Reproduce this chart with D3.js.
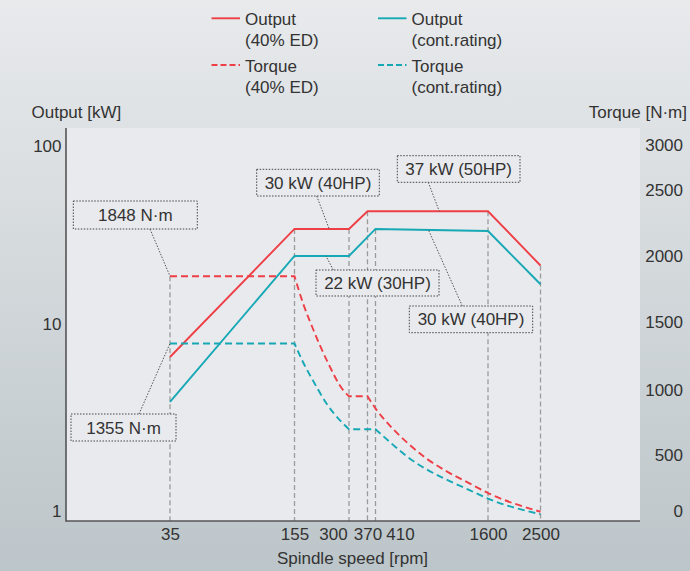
<!DOCTYPE html>
<html><head><meta charset="utf-8">
<script src="https://cdn.jsdelivr.net/npm/d3@7"></script>
<style>
html,body{margin:0;padding:0;overflow:hidden;}
svg{display:block;font-family:"Liberation Sans",Arial,Helvetica,sans-serif;}
</style></head>
<body>
<svg id="chart" width="690" height="571"></svg>
<script>
// ---------- data ----------
const rpmTicks = [35, 155, 300, 370, 410, 1600, 2500];
const outputTicks = [1, 10, 100];
const torqueTicks = [0, 500, 1000, 1500, 2000, 2500, 3000];

const outEdRpm   = [35, 155, 300, 370, 1600, 2500];
const outEdKw    = [6.7, 34.3, 34.3, 43.1, 43.1, 21.4];
const outContRpm = [35, 155, 300, 410, 1600, 2500];
const outContKw  = [3.85, 24.2, 24.2, 34.3, 33.4, 16.8];

const torqEdRpm   = [35, 155, 172, 195, 229, 280, 300, 370, 416, 509, 622, 762, 932, 1287, 1600, 2500];
const torqEdNm    = [1848, 1848, 1640, 1439, 1217, 995, 950, 950, 845, 699, 579, 471, 375, 247, 163, -5];
const torqContRpm = [35, 155, 172, 195, 229, 280, 300, 410, 509, 622, 762, 932, 1287, 1600, 2500];
const torqContNm  = [1340, 1340, 1202, 1061, 893, 741, 700, 700, 579, 471, 375, 297, 187, 113, -27];

const legendLabels = [["Output", "(40% ED)"], ["Output", "(cont.rating)"], ["Torque", "(40% ED)"], ["Torque", "(cont.rating)"]];
const annoTexts  = ["1848 N·m", "30 kW (40HP)", "37 kW (50HP)", "22 kW (30HP)", "30 kW (40HP)", "1355 N·m"];
const annoRpm    = [35, 236, 887, 227, 777, 35];
const annoValue  = [1848, 34.3, 43.1, 24.2, 34, 1340];
const annoAxis   = ["torque", "output", "output", "output", "output", "torque"];

// ---------- layout / style ----------
const RED = "#ee3f47", TEAL = "#17a8b6", TXT = "#333";
const plot = {x0: 66, x1: 640, y0: 128, y1: 521};

const svg = d3.select("#chart");
const defs = svg.append("defs");
const grad = defs.append("linearGradient").attr("id", "bg").attr("x1", 0).attr("y1", 0).attr("x2", 0).attr("y2", 1);
grad.append("stop").attr("offset", "0").attr("stop-color", "#e8eaec");
grad.append("stop").attr("offset", "1").attr("stop-color", "#bcc5c9");
svg.append("rect").attr("width", 690).attr("height", 571).attr("fill", "url(#bg)");
svg.append("rect").attr("x", plot.x0).attr("y", plot.y0).attr("width", plot.x1 - plot.x0).attr("height", plot.y1 - plot.y0).attr("fill", "#e9eaed");

// ---------- scales ----------
const x = d3.scaleLog().domain(rpmTicks).range([170, 294.5, 349, 367.5, 375.5, 488, 540.5]);
const yOut = d3.scaleLog().domain(outputTicks).range([511.2, 324.5, 146]);
const yTq = d3.scaleLinear().domain(torqueTicks).range([511.2, 455.5, 389.7, 321.7, 256.3, 190, 145.5]);

const series = [
  {rpm: outEdRpm, val: outEdKw, y: yOut, color: RED, dash: null},
  {rpm: outContRpm, val: outContKw, y: yOut, color: TEAL, dash: null},
  {rpm: torqEdRpm, val: torqEdNm, y: yTq, color: RED, dash: "7,4"},
  {rpm: torqContRpm, val: torqContNm, y: yTq, color: TEAL, dash: "7,4"}
];

// ---------- vertical guide lines ----------
rpmTicks.forEach(r => {
  let top = plot.y1;
  series.forEach(s => s.rpm.forEach((v, i) => { if (v === r) top = Math.min(top, s.y(s.val[i])); }));
  svg.append("line").attr("x1", x(r)).attr("x2", x(r)).attr("y1", top).attr("y2", plot.y1)
    .attr("stroke", "#9a9a9a").attr("stroke-width", 1.3).attr("stroke-dasharray", "5,3");
});

// ---------- series ----------
function buildPath(s) {
  const pts = s.rpm.map((r, i) => [x(r), s.y(s.val[i])]);
  if (!s.dash) return d3.line()(pts);
  // split into flat parts (straight) and falling runs (smooth)
  let d = "", i = 0;
  while (i < pts.length - 1) {
    if (s.val[i] === s.val[i + 1]) {
      const seg = d3.line()([pts[i], pts[i + 1]]);
      d += d ? seg.replace(/^M/, "L") : seg;
      i += 1;
    } else {
      let j = i + 1;
      while (j < pts.length - 1 && s.val[j] !== s.val[j + 1]) j++;
      const seg = d3.line().curve(d3.curveMonotoneX)(pts.slice(i, j + 1));
      d += d ? seg.replace(/^M/, "L") : seg;
      i = j;
    }
  }
  return d;
}
series.forEach(s => {
  svg.append("path").attr("d", buildPath(s)).attr("fill", "none").attr("stroke", s.color)
    .attr("stroke-width", 1.9).attr("stroke-dasharray", s.dash);
});

// ---------- axes ----------
svg.append("line").attr("x1", plot.x0).attr("x2", plot.x0).attr("y1", plot.y0).attr("y2", plot.y1 + 0.8)
  .attr("stroke", "#555").attr("stroke-width", 1.6);
svg.append("line").attr("x1", plot.x0).attr("x2", plot.x1).attr("y1", plot.y1).attr("y2", plot.y1)
  .attr("stroke", "#555").attr("stroke-width", 1.6);

const gL = svg.append("g").attr("transform", `translate(${plot.x0},0)`)
  .call(d3.axisLeft(yOut).tickValues(outputTicks).tickFormat(d3.format("d")).tickSize(0).tickPadding(4.5));
const gR = svg.append("g").attr("transform", `translate(683,0)`)
  .call(d3.axisRight(yTq).tickValues(torqueTicks).tickFormat(d3.format("d")).tickSize(0).tickPadding(0));
gR.selectAll("text").attr("text-anchor", "end").attr("x", 0);
const gB = svg.append("g").attr("transform", `translate(0,${plot.y1})`)
  .call(d3.axisBottom(x).tickValues(rpmTicks).tickFormat(d3.format("d")).tickSize(0).tickPadding(7));
const labelShift = {300: -16, 410: 24.5};
gB.selectAll(".tick text").attr("dx", d => labelShift[d] || 0);
[gL, gR, gB].forEach(g => {
  g.select(".domain").remove();
  g.selectAll("text").attr("font-size", 17).attr("fill", TXT).attr("font-family", "Liberation Sans, Arial, sans-serif");
});

// axis titles
const title = (t, xx, yy, anchor) => svg.append("text").attr("x", xx).attr("y", yy).attr("text-anchor", anchor)
  .attr("font-size", 17).attr("fill", TXT).text(t);
title("Output [kW]", 31.5, 118, "start");
title("Torque [N·m]", 687, 118, "end");
title("Spindle speed [rpm]", 352.5, 563.5, "middle");

// ---------- legend ----------
const legPos = [[211.5, 18.3], [378, 18.3], [211.5, 65], [378, 65]];
series.forEach((s, i) => {
  const [lx, ly] = legPos[i];
  svg.append("line").attr("x1", lx).attr("x2", lx + 28.5).attr("y1", ly).attr("y2", ly)
    .attr("stroke", s.color).attr("stroke-width", 1.9).attr("stroke-dasharray", s.dash ? "6,3" : null);
  const t = svg.append("text").attr("font-size", 17).attr("fill", TXT);
  t.append("tspan").attr("x", lx + 33.5).attr("y", ly + 7).text(legendLabels[i][0]);
  t.append("tspan").attr("x", lx + 33.5).attr("y", ly + 27.5).text(legendLabels[i][1]);
});

// ---------- annotations ----------
const boxes = [
  {x: 73.3, y: 201, w: 124, h: 28, lx: 150},
  {x: 256.7, y: 169.3, w: 122.6, h: 26.7, lx: 316.7},
  {x: 397.3, y: 155.7, w: 122.7, h: 26.6, lx: 428.3},
  {x: 316, y: 270, w: 123, h: 26, lx: 333.3, top: true},
  {x: 409.3, y: 306, w: 123.4, h: 26.7, lx: 462.3, top: true},
  {x: 71, y: 414, w: 105, h: 27, lx: 139, top: true}
];
annoTexts.forEach((t, i) => {
  const b = boxes[i];
  const ax = x(annoRpm[i]);
  const ay = annoAxis[i] === "torque" ? yTq(annoValue[i]) : yOut(annoValue[i]);
  const sy = b.top ? b.y : b.y + b.h;
  svg.append("line").attr("x1", b.lx).attr("y1", sy).attr("x2", ax).attr("y2", ay)
    .attr("stroke", "#555").attr("stroke-width", 1).attr("stroke-dasharray", "1.5,1.5");
  svg.append("rect").attr("x", b.x).attr("y", b.y).attr("width", b.w).attr("height", b.h)
    .attr("fill", "#e9eaed").attr("stroke", "#444").attr("stroke-width", 1).attr("stroke-dasharray", "1.5,1.5");
  svg.append("text").attr("x", b.x + b.w / 2).attr("y", b.y + b.h / 2 + 6).attr("text-anchor", "middle")
    .attr("font-size", 17).attr("fill", TXT).text(t);
});
</script>
</body></html>
